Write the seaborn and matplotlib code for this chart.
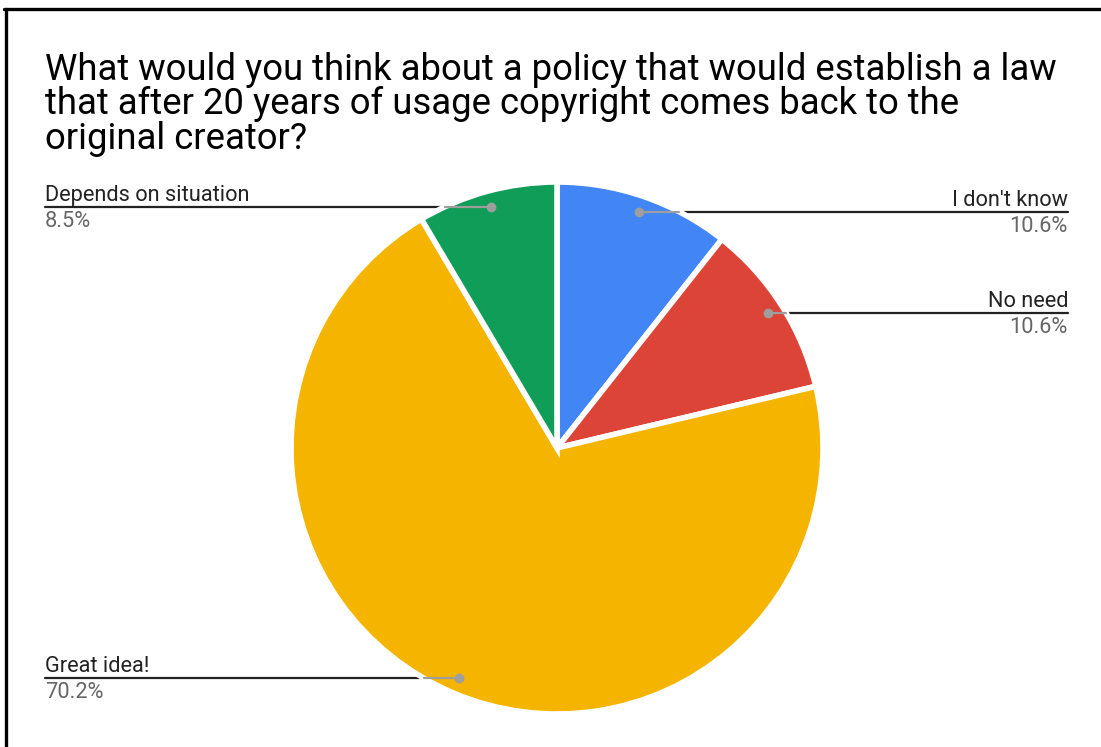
import numpy as np
import matplotlib
matplotlib.use("Agg")
import matplotlib.pyplot as plt
import seaborn as sns
from matplotlib.lines import Line2D

# Survey responses (count of respondents per answer)
answers = ["I don't know", "No need", "Great idea!", "Depends on situation"]
counts = [5, 5, 33, 4]
slice_colors = ["#4285F4", "#DB4437", "#F4B400", "#0F9D58"]
title_lines = ["What would you think about a policy that would establish a law",
               "that after 20 years of usage copyright comes back to the",
               "original creator?"]

sns.set_theme(style="white")
plt.rcParams["font.family"] = ["Roboto", "DejaVu Sans"]

W, H = 1101, 747
fig = plt.figure(figsize=(W / 100, H / 100), dpi=100)
ax = fig.add_axes([0, 0, 1, 1])

cx, cy, R = 557, H - 448, 266
palette = sns.color_palette(slice_colors)
wedges, _ = ax.pie(counts, colors=palette, startangle=90, counterclock=False,
                   center=(cx, cy), radius=R, frame=True,
                   wedgeprops=dict(edgecolor="white", linewidth=4, zorder=2))
ax.set_xlim(0, W)
ax.set_ylim(0, H)
ax.set_aspect("equal")
ax.set_axis_off()

total = sum(counts)
shares = [c / total for c in counts]

# label side (+1 right, -1 left) and anchor x of the leader line end
sides = [1, 1, -1, -1]
ends = [1068, 1068, 45, 45]

for w, share, name, side, xe in zip(wedges, shares, answers, sides, ends):
    mid = np.deg2rad((w.theta1 + w.theta2) / 2)
    dx, dy = np.cos(mid), np.sin(mid)
    px, py = cx + 0.94 * R * dx, cy + 0.94 * R * dy
    # where the horizontal leader leaves the pie
    ex = cx + side * np.sqrt(max(R ** 2 - (py - cy) ** 2, 0))
    ax.add_line(Line2D([ex, xe], [py, py], color="#222222", lw=1.6, zorder=1))
    ax.add_line(Line2D([px, ex], [py, py], color="#9E9E9E", lw=1.6, zorder=3))
    ax.plot([px], [py], "o", color="#9E9E9E", ms=6, zorder=4)
    ha = "right" if side > 0 else "left"
    ax.text(xe, py + 6, name, ha=ha, va="baseline", fontsize=15.7,
            color="#222222", zorder=5)
    ax.text(xe, py - 20, f"{share * 100:.1f}%", ha=ha, va="baseline",
            fontsize=15.7, color="#666666", zorder=5)

for i, line in enumerate(title_lines):
    fig.text(45 / W, 1 - (80 + 34.5 * i) / H, line, ha="left", va="baseline",
             fontsize=26.3, color="#000000")

# frame lines along the top and left edges
fig.add_artist(Line2D([4 / W, 1], [1 - 8.5 / H, 1 - 8.5 / H], color="black", lw=2.4))
fig.add_artist(Line2D([5.5 / W, 5.5 / W], [0, 1 - 8.5 / H], color="black", lw=2.4))

fig.savefig("out.png", dpi=100, facecolor="white")
